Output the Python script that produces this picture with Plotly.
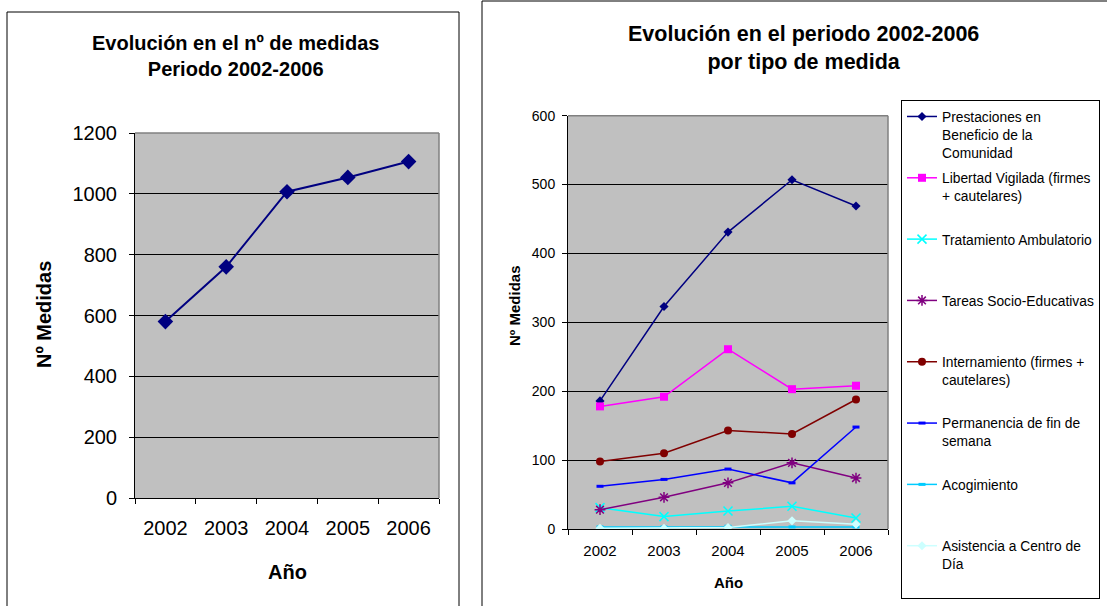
import plotly.graph_objects as go

W, H = 1107, 606

years = ["2002", "2003", "2004", "2005", "2006"]
total = [580, 760, 1007, 1054, 1106]

series_names = [
    "Prestaciones en<br>Beneficio de la<br>Comunidad",
    "Libertad Vigilada (firmes<br>+ cautelares)",
    "Tratamiento Ambulatorio",
    "Tareas Socio-Educativas",
    "Internamiento (firmes +<br>cautelares)",
    "Permanencia de fin de<br>semana",
    "Acogimiento",
    "Asistencia a Centro de<br>Día",
]
prestaciones = [186, 323, 431, 507, 469]
libertad = [178, 192, 261, 203, 208]
tratamiento = [31, 18, 26, 33, 16]
tareas = [28, 46, 67, 96, 74]
internamiento = [98, 110, 143, 138, 188]
permanencia = [62, 72, 87, 67, 148]
acogimiento = [3, 3, 4, 3, 3]
asistencia = [1, 1, 2, 12, 7]

series_values = [prestaciones, libertad, tratamiento, tareas,
                 internamiento, permanencia, acogimiento, asistencia]
colors = ["#000080", "#FF00FF", "#00FFFF", "#800080",
          "#800000", "#0000FF", "#00CCFF", "#CCFFFF"]
symbols = ["diamond", "square", "x-thin", "asterisk",
           "circle", "line-ew", "line-ew", "diamond"]
msizes = [7, 8, 9, 9, 8, 5, 5, 7]

FONT = "Arial, Liberation Sans, sans-serif"

def px(x):
    return x / W

def py(y):
    return 1 - y / H

fig = go.Figure()

# Left chart
fig.add_trace(go.Scatter(
    x=years, y=total, mode="lines+markers", xaxis="x", yaxis="y",
    line=dict(color="#000080", width=2),
    marker=dict(symbol="diamond", size=12, color="#000080"),
    showlegend=False,
))

# Right chart
for i, (name, vals) in enumerate(zip(series_names, series_values)):
    lines = name.count("<br>") + 1
    padded = name + "<br> " * (3 - lines)
    sym = symbols[i]
    marker = dict(symbol=sym, size=msizes[i], color=colors[i])
    if sym in ("x-thin", "asterisk", "line-ew"):
        marker["line"] = dict(color=colors[i], width=1.5 if sym != "line-ew" else 3)
    fig.add_trace(go.Scatter(
        x=years, y=vals, mode="lines+markers", xaxis="x2", yaxis="y2",
        name=padded, legendgroup=f"g{i}",
        line=dict(color=colors[i], width=1.5),
        marker=marker,
    ))

axis_common = dict(
    showline=True, linecolor="black", linewidth=1,
    ticks="outside", ticklen=5, tickcolor="black", tickwidth=1,
    zeroline=False, automargin=False,
)

fig.update_layout(
    width=W, height=H,
    margin=dict(l=0, r=0, t=0, b=0, pad=0, autoexpand=False),
    paper_bgcolor="white", plot_bgcolor="#C0C0C0",
    font=dict(family=FONT, color="black"),
    xaxis=dict(domain=[px(135), px(439)], anchor="y", type="category",
               tickson="boundaries", range=[-0.5, 4.5], showgrid=False,
               ticklabelstandoff=12,
               tickfont=dict(family=FONT, size=20, color="black"), **axis_common),
    yaxis=dict(domain=[py(498), py(133)], anchor="x", range=[0, 1200],
               dtick=200, showgrid=True, gridcolor="black", gridwidth=1,
               ticklabelstandoff=8,
               tickfont=dict(family=FONT, size=20, color="black"), **axis_common),
    xaxis2=dict(domain=[px(568), px(888)], anchor="y2", type="category",
                tickson="boundaries", range=[-0.5, 4.5], showgrid=False,
                ticklabelstandoff=8,
                tickfont=dict(family=FONT, size=15, color="black"), **axis_common),
    yaxis2=dict(domain=[py(529), py(115.7)], anchor="x2", range=[0, 600],
                dtick=100, showgrid=True, gridcolor="black", gridwidth=1,
                ticklabelstandoff=4,
                tickfont=dict(family=FONT, size=14, color="black"), **axis_common),
    legend=dict(
        x=px(901), y=py(100), xanchor="left", yanchor="top",
        bordercolor="black", borderwidth=1, bgcolor="white",
        font=dict(family=FONT, size=13.8, color="black"),
        valign="top", tracegroupgap=4.5, itemwidth=30,
    ),
)

shapes = [
    # outer chart boxes
    dict(type="rect", xref="paper", yref="paper", x0=px(7), x1=px(459),
         y0=-0.1, y1=py(12), line=dict(color="black", width=1), layer="above"),
    dict(type="rect", xref="paper", yref="paper", x0=px(482), x1=1.1,
         y0=-0.1, y1=py(1), line=dict(color="black", width=1), layer="above"),
]
# gray top/right plot-area borders
for xr, yr in (("x", "y"), ("x2", "y2")):
    shapes.append(dict(type="line", xref=f"{xr} domain", yref=f"{yr} domain",
                       x0=0, x1=1, y0=1, y1=1, line=dict(color="#808080", width=1.5)))
    shapes.append(dict(type="line", xref=f"{xr} domain", yref=f"{yr} domain",
                       x0=1, x1=1, y0=0, y1=1, line=dict(color="#808080", width=1.5)))
fig.update_layout(shapes=shapes)

annotations = [
    dict(text="<b>Evolución en el nº de medidas<br>Periodo 2002-2006</b>",
         x=px(235), y=py(56), font=dict(size=20, family=FONT)),
    dict(text="<b>Evolución en el periodo 2002-2006<br>por tipo de medida</b>",
         x=px(803), y=py(48), font=dict(size=21.5, family=FONT)),
    dict(text="<b>Año</b>", x=px(287), y=py(572), font=dict(size=20, family=FONT)),
    dict(text="<b>Nº Medidas</b>", x=px(44), y=py(315), textangle=-90,
         font=dict(size=20, family=FONT)),
    dict(text="<b>Año</b>", x=px(728), y=py(582), font=dict(size=15, family=FONT)),
    dict(text="<b>Nº Medidas</b>", x=px(514), y=py(306), textangle=-90,
         font=dict(size=15, family=FONT)),
]
for a in annotations:
    a.update(xref="paper", yref="paper", showarrow=False,
             xanchor="center", yanchor="middle")
fig.update_layout(annotations=annotations)

fig.write_html("out.html", config={"displayModeBar": False},
               post_script="document.body.style.margin='0';")
